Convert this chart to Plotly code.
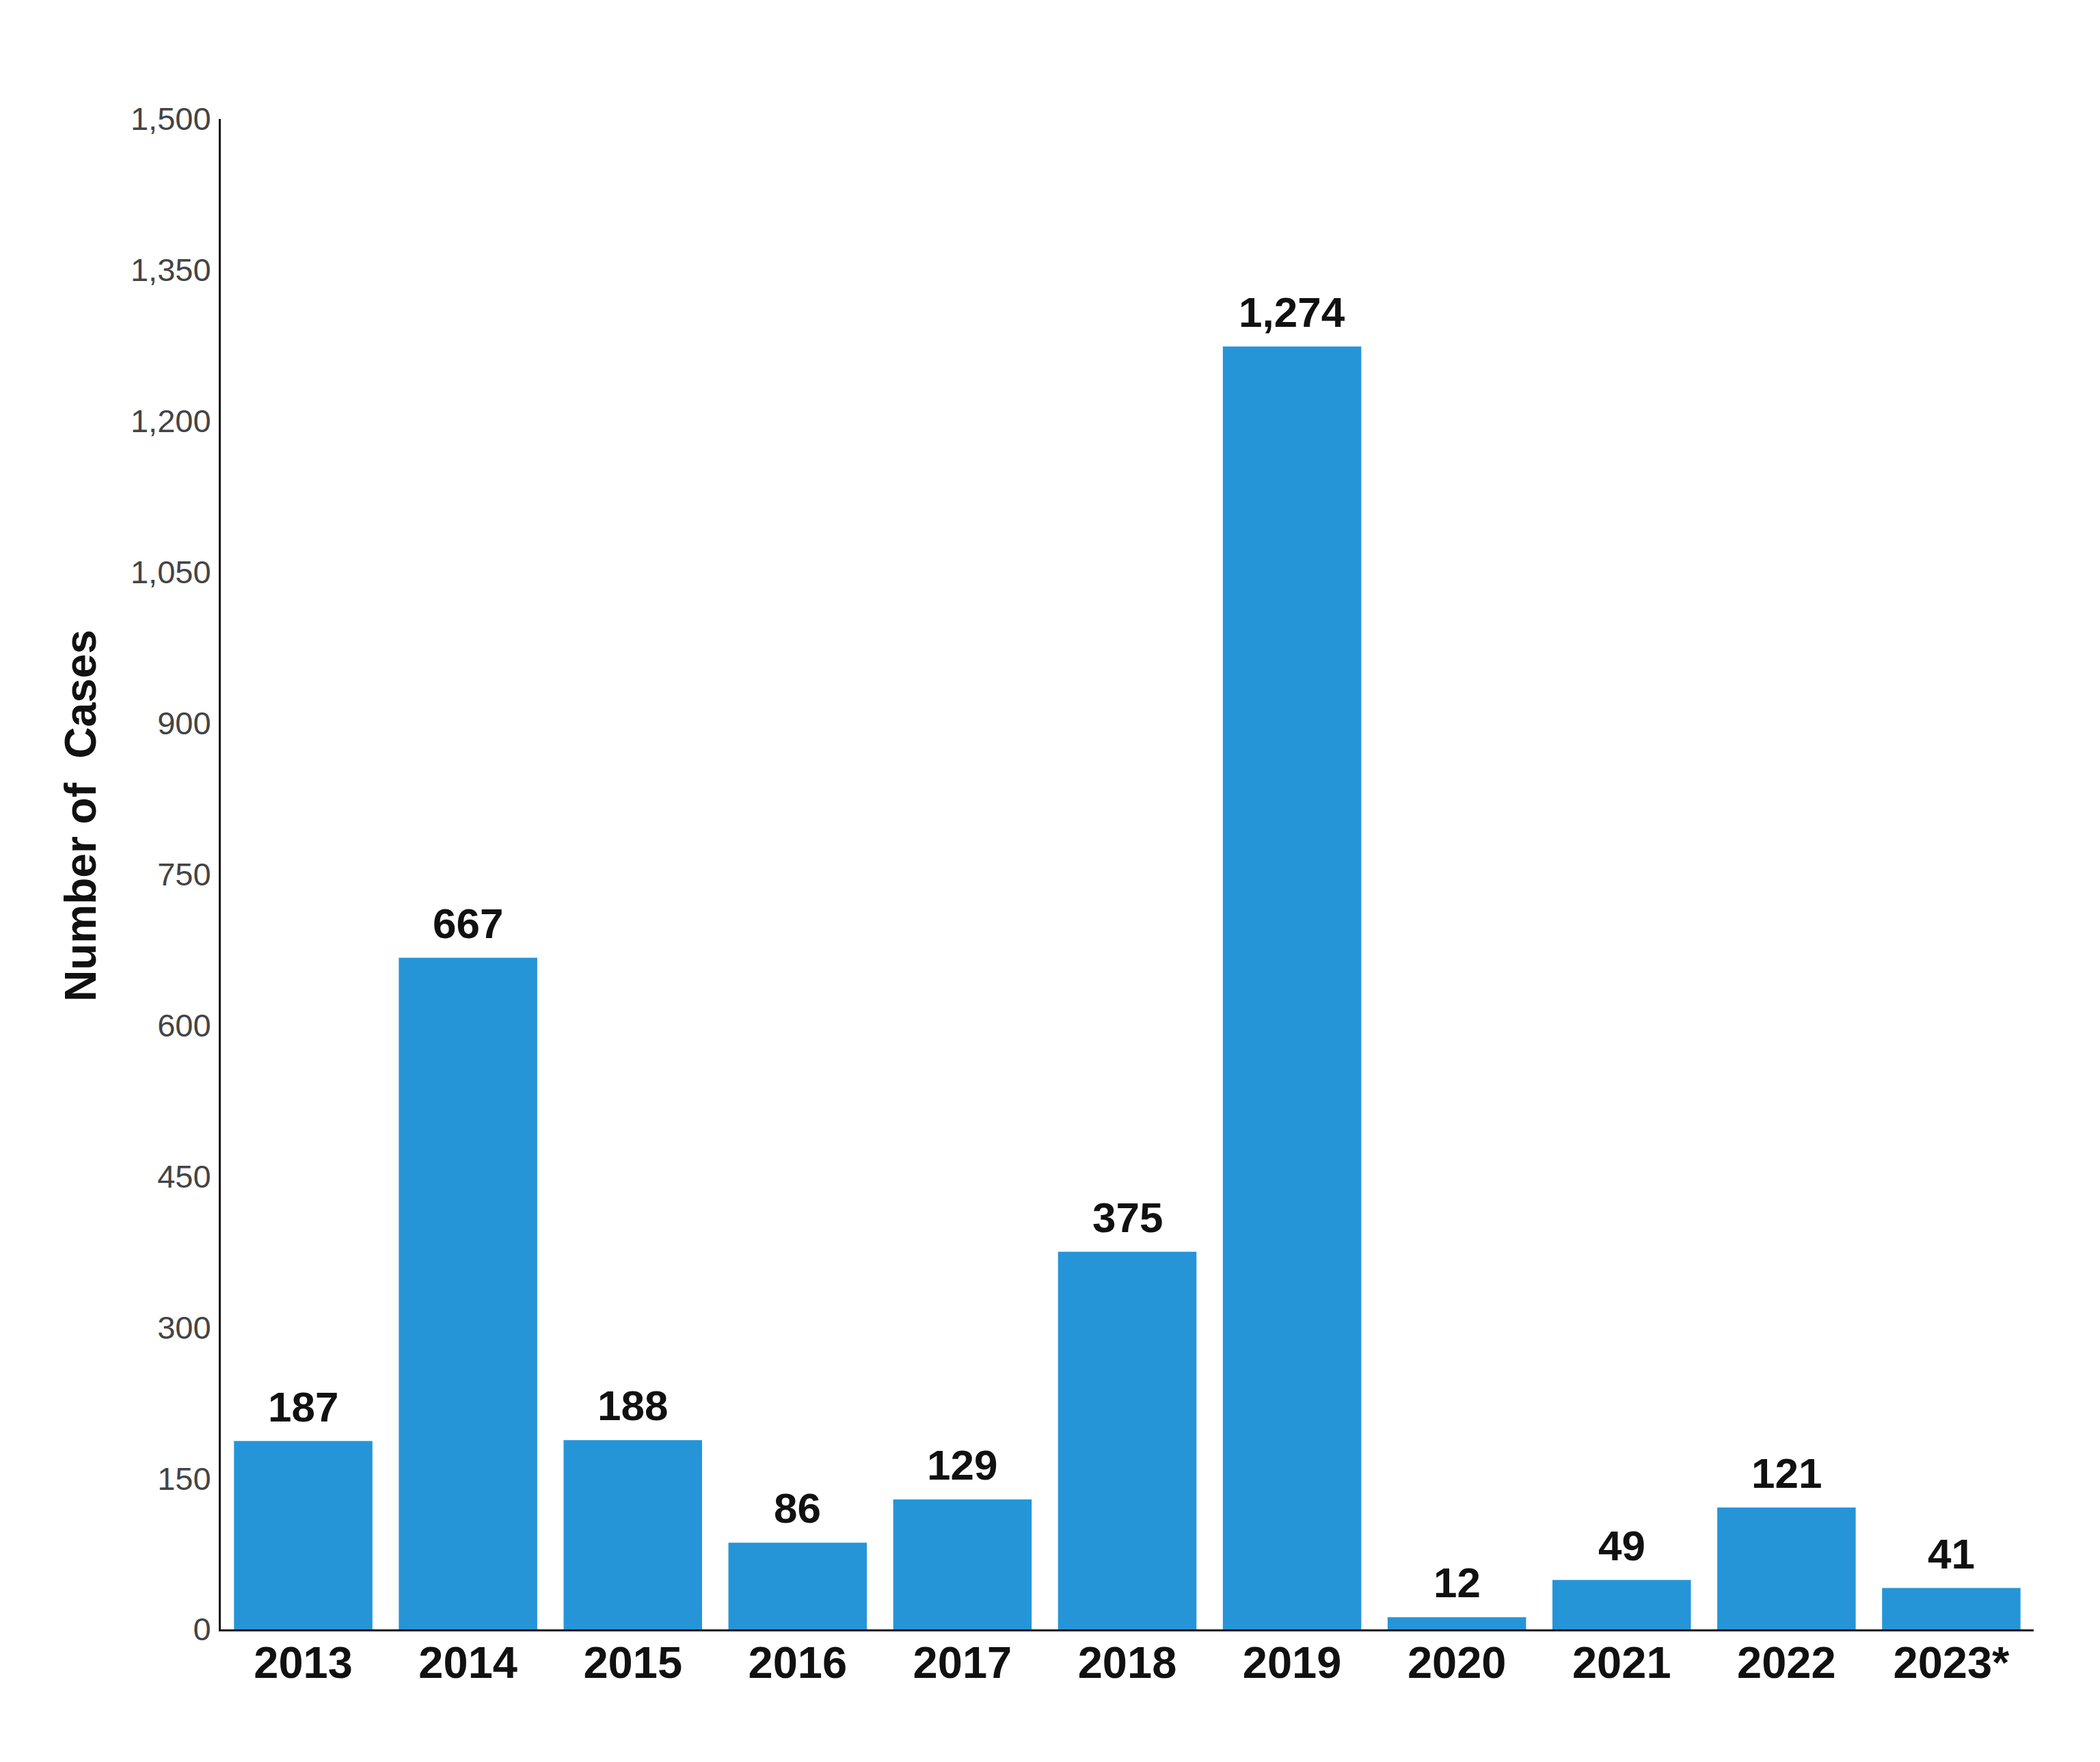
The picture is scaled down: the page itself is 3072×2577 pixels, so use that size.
import plotly.graph_objects as go

years = ["2013", "2014", "2015", "2016", "2017", "2018", "2019", "2020", "2021", "2022", "2023*"]
cases = [187, 667, 188, 86, 129, 375, 1274, 12, 49, 121, 41]
y_ticks = [0, 150, 300, 450, 600, 750, 900, 1050, 1200, 1350, 1500]

BAR_COLOR = "#2595d8"
FONT = "Liberation Sans, Arial, sans-serif"

W, H = 3072, 2577
OFF = 8  # default page body margin
L, R, T, B = 323 - OFF, 97 + OFF, 174 - OFF, 194 + OFF

fig = go.Figure()
fig.add_trace(go.Bar(
    x=years, y=cases,
    marker=dict(color=BAR_COLOR, line=dict(width=0)),
    hoverinfo="skip",
))

for i, v in enumerate(cases):
    fig.add_annotation(
        x=i, y=v, xref="x", yref="y",
        text=f"<b>{v:,}</b>", showarrow=False,
        yanchor="bottom", yshift=14,
        font=dict(family=FONT, size=62, color="#111111"),
    )

# y-axis title centre at (118, 1193) page pixels
fig.add_annotation(
    x=(118 - OFF - L) / (W - L - R), y=(H - (1193 - OFF) - B) / (H - T - B),
    xref="paper", yref="paper", xanchor="center", yanchor="middle",
    text="<b>Number of  Cases</b>", showarrow=False, textangle=-90,
    font=dict(family=FONT, size=64, color="#111111"),
)

fig.update_layout(
    width=W, height=H,
    margin=dict(l=L, r=R, t=T, b=B, pad=0),
    paper_bgcolor="white", plot_bgcolor="white",
    bargap=0.16,
    showlegend=False,
    xaxis=dict(
        type="category",
        range=[-0.5, len(years) - 0.5],
        showline=True, linecolor="#111111", linewidth=3,
        showgrid=False, ticks="",
        tickfont=dict(family=FONT, size=65, color="#111111", weight="bold"),
        ticklabelstandoff=-10,
        fixedrange=True,
    ),
    yaxis=dict(
        range=[0, 1500],
        tickvals=y_ticks, ticktext=[f"{t:,}" for t in y_ticks],
        showline=True, linecolor="#111111", linewidth=3,
        showgrid=False, zeroline=False, ticks="",
        tickfont=dict(family=FONT, size=47, color="#444444"),
        ticklabelstandoff=2,
        fixedrange=True,
    ),
)

fig.write_html("out.html")
